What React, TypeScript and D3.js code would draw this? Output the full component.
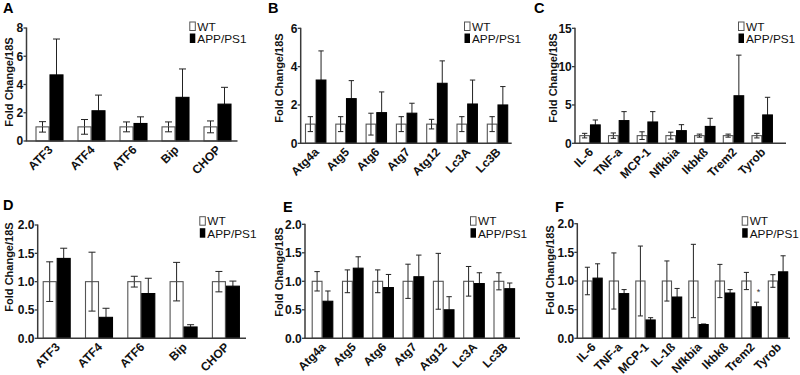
import React from "react";
import * as d3 from "d3";

// ---------- data ----------
const catsER = ["ATF3", "ATF4", "ATF6", "Bip", "CHOP"];
const catsAtg = ["Atg4a", "Atg5", "Atg6", "Atg7", "Atg12", "Lc3A", "Lc3B"];
const catsInfC = ["IL-6", "TNF-a", "MCP-1", "Nfkbia", "Ikbkß", "Trem2", "Tyrob"];
const catsInfF = ["IL-6", "TNF-a", "MCP-1", "IL-1ß", "Nfkbia", "Ikbkß", "Trem2", "Tyrob"];

const wtA = [1, 1, 1, 1, 1];
const wtErrA = [0.37, 0.52, 0.35, 0.35, 0.42];
const appA = [4.68, 2.14, 1.24, 3.09, 2.61];
const appErrA = [2.54, 1.11, 0.47, 2.01, 1.19];
const ticksA = [0, 2, 4, 6, 8];

const wtB = [1, 1, 1, 1, 1, 1, 1];
const wtErrB = [0.39, 0.39, 0.57, 0.39, 0.25, 0.39, 0.39];
const appB = [3.3, 2.33, 1.6, 1.57, 3.13, 2.05, 2.0];
const appErrB = [1.52, 0.94, 1.08, 0.52, 1.17, 1.25, 0.96];
const ticksB = [0, 2, 4, 6];

const wtC = [1, 1, 1, 1, 1, 1, 1];
const wtErrC = [0.3, 0.35, 0.5, 0.45, 0.2, 0.2, 0.3];
const appC = [2.4, 2.96, 2.78, 1.65, 2.2, 6.2, 3.7];
const appErrC = [0.64, 1.17, 1.35, 0.78, 1.06, 5.3, 2.3];
const ticksC = [0, 5, 10, 15];

const wtD = [1, 1, 1, 1, 1];
const wtErrD = [0.35, 0.52, 0.095, 0.34, 0.18];
const appD = [1.41, 0.37, 0.79, 0.2, 0.92];
const appErrD = [0.18, 0.16, 0.27, 0.04, 0.09];
const ticksLow = [0, 0.5, 1.0, 1.5, 2.0];

const wtE = [1, 1, 1, 1, 1, 1, 1];
const wtErrE = [0.17, 0.2, 0.2, 0.3, 0.49, 0.26, 0.15];
const appE = [0.65, 1.23, 0.89, 1.08, 0.5, 0.96, 0.87];
const appErrE = [0.18, 0.2, 0.23, 0.38, 0.23, 0.19, 0.1];

const wtF = [1, 1, 1, 1, 1, 1, 1, 1];
const wtErrF = [0.24, 0.49, 0.61, 0.35, 0.64, 0.29, 0.15, 0.11];
const appF = [1.05, 0.78, 0.32, 0.72, 0.24, 0.79, 0.55, 1.16];
const appErrF = [0.25, 0.07, 0.04, 0.15, 0.01, 0.06, 0.08, 0.28];

const seriesNames = ["WT", "APP/PS1"];
const yTitle = "Fold Change/18S";

// ---------- layout ----------
const FONT = "'Liberation Sans', Arial, Helvetica, sans-serif";

type PanelDef = {
  letter: string;
  letterPos: [number, number];
  cats: string[];
  wt: number[];
  wtErr: number[];
  app: number[];
  appErr: number[];
  ticks: number[];
  decimals: number;
  axisX: number;
  axisEnd: number;
  yTop: number;
  yBot: number;
  firstBar: number;
  step: number;
  bw: number;
  legend: [number, number];
  title: [number, number];
  star?: string;
};

const panels: PanelDef[] = [
  {
    letter: "A", letterPos: [3, 13], cats: catsER, wt: wtA, wtErr: wtErrA, app: appA, appErr: appErrA,
    ticks: ticksA, decimals: 0, axisX: 26.5, axisEnd: 237.5, yTop: 28, yBot: 141,
    firstBar: 35.5, step: 42, bw: 14, legend: [189.3, 22], title: [13.3, 82],
  },
  {
    letter: "B", letterPos: [268, 13], cats: catsAtg, wt: wtB, wtErr: wtErrB, app: appB, appErr: appErrB,
    ticks: ticksB, decimals: 0, axisX: 300.7, axisEnd: 511.7, yTop: 28.3, yBot: 143.3,
    firstBar: 305, step: 30.3, bw: 10.7, legend: [464, 22], title: [283, 78],
  },
  {
    letter: "C", letterPos: [534, 13], cats: catsInfC, wt: wtC, wtErr: wtErrC, app: appC, appErr: appErrC,
    ticks: ticksC, decimals: 0, axisX: 575, axisEnd: 786, yTop: 28.3, yBot: 143.3,
    firstBar: 579.3, step: 28.7, bw: 10.7, legend: [738, 22], title: [556.7, 78],
  },
  {
    letter: "D", letterPos: [3, 210], cats: catsER, wt: wtD, wtErr: wtErrD, app: appD, appErr: appErrD,
    ticks: ticksLow, decimals: 1, axisX: 37.7, axisEnd: 246, yTop: 225, yBot: 338.3,
    firstBar: 42.7, step: 42.3, bw: 14, legend: [199.3, 216.7], title: [13.3, 267],
  },
  {
    letter: "E", letterPos: [283, 212], cats: catsAtg, wt: wtE, wtErr: wtErrE, app: appE, appErr: appErrE,
    ticks: ticksLow, decimals: 1, axisX: 305, axisEnd: 520, yTop: 224.3, yBot: 338.3,
    firstBar: 311.7, step: 30.3, bw: 10.8, legend: [470, 216.7], title: [283, 272],
  },
  {
    letter: "F", letterPos: [555, 212], cats: catsInfF, wt: wtF, wtErr: wtErrF, app: appF, appErr: appErrF,
    ticks: ticksLow, decimals: 1, axisX: 577.3, axisEnd: 790, yTop: 223.7, yBot: 338.3,
    firstBar: 582.3, step: 26.5, bw: 10.2, legend: [741.7, 216.7], title: [554, 270], star: "Trem2",
  },
];

const AXIS = "#3a3a3a";
const OUTLINE = "#555";

function Panel({ p }: { p: PanelDef }) {
  const n = p.cats.length;
  const groupW = p.bw * 2;
  const pad = (p.step - groupW) / p.step;
  const x = d3
    .scaleBand<string>()
    .domain(p.cats)
    .range([p.firstBar - (p.step - groupW) / 2, p.firstBar - (p.step - groupW) / 2 + n * p.step])
    .paddingInner(pad)
    .paddingOuter(pad / 2);
  const sub = d3.scaleBand<string>().domain(seriesNames).range([0, x.bandwidth()]);
  const yMax = p.ticks[p.ticks.length - 1];
  const y = d3.scaleLinear().domain([0, yMax]).range([p.yBot, p.yTop]);
  const fmt = d3.format(p.decimals ? ".1f" : "d");
  const cap = p.bw * 0.5;

  const bars: React.ReactNode[] = [];
  p.cats.forEach((c, i) => {
    const series = [
      { name: "WT", v: p.wt[i], e: p.wtErr[i], fill: "#fff" },
      { name: "APP/PS1", v: p.app[i], e: p.appErr[i], fill: "#000" },
    ];
    series.forEach((s) => {
      const bx = (x(c) ?? 0) + (sub(s.name) ?? 0);
      const cx = bx + sub.bandwidth() / 2;
      const top = y(s.v);
      const hi = y(s.v + s.e);
      const lo = y(Math.max(0, s.v - s.e));
      const white = s.fill === "#fff";
      bars.push(
        <g key={c + s.name}>
          <line x1={cx} x2={cx} y1={hi} y2={top} stroke="#222" strokeWidth={1} />
          <line x1={cx - cap / 2} x2={cx + cap / 2} y1={hi} y2={hi} stroke="#222" strokeWidth={1} />
          <rect
            x={bx + 0.5}
            y={top}
            width={sub.bandwidth() - 1}
            height={p.yBot - top}
            fill={s.fill}
            stroke={white ? OUTLINE : "#000"}
            strokeWidth={1.1}
          />
          {white && (
            <>
              <line x1={cx} x2={cx} y1={top} y2={lo} stroke="#222" strokeWidth={1} />
              <line x1={cx - cap / 2} x2={cx + cap / 2} y1={lo} y2={lo} stroke="#222" strokeWidth={1} />
            </>
          )}
        </g>
      );
      if (p.star && c === p.star && s.name === "APP/PS1") {
        bars.push(
          <text key="star" x={cx + 2} y={hi - 7} fontSize={9} fontFamily={FONT} textAnchor="middle" fill="#333">
            *
          </text>
        );
      }
    });
  });

  const [lx, ly] = p.legend;
  return (
    <g>
      <text x={p.letterPos[0]} y={p.letterPos[1]} fontFamily={FONT} fontWeight="bold" fontSize={14.5}>
        {p.letter}
      </text>
      <text
        transform={`translate(${p.title[0]},${p.title[1]}) rotate(-90)`}
        textAnchor="middle"
        fontFamily={FONT}
        fontWeight="bold"
        fontSize={11}
        fill="#111"
      >
        {yTitle}
      </text>
      {bars}
      {/* axes */}
      <line x1={p.axisX} x2={p.axisX} y1={p.yTop - 0.5} y2={p.yBot} stroke={AXIS} strokeWidth={1.5} />
      <line x1={p.axisX - 0.75} x2={p.axisEnd} y1={p.yBot} y2={p.yBot} stroke={AXIS} strokeWidth={1.5} />
      {p.ticks.map((t) => (
        <g key={t}>
          <line x1={p.axisX - 3} x2={p.axisX} y1={y(t)} y2={y(t)} stroke={AXIS} strokeWidth={1.3} />
          <text
            x={p.axisX - 3.2}
            y={y(t)}
            dy="0.36em"
            textAnchor="end"
            fontFamily={FONT}
            fontWeight="bold"
            fontSize={12}
            fill="#111"
          >
            {fmt(t)}
          </text>
        </g>
      ))}
      {p.cats.map((c) => {
        const cx = (x(c) ?? 0) + x.bandwidth() / 2;
        return (
          <text
            key={c}
            transform={`translate(${cx + 4},${p.yBot + 9.5}) rotate(-45)`}
            textAnchor="end"
            fontFamily={FONT}
            fontWeight="bold"
            fontSize={12}
            fill="#111"
          >
            {c}
          </text>
        );
      })}
      {/* legend */}
      <rect x={lx + 0.5} y={ly} width={5.5} height={8.5} fill="#fff" stroke={OUTLINE} strokeWidth={1} />
      <rect x={lx + 0.5} y={ly + 11.5} width={5.5} height={9.5} fill="#000" />
      <text x={lx + 8} y={ly + 8.7} fontFamily={FONT} fontSize={11.8} fill="#111">
        {seriesNames[0]}
      </text>
      <text x={lx + 8} y={ly + 21} fontFamily={FONT} fontSize={11.8} fill="#111">
        {seriesNames[1]}
      </text>
    </g>
  );
}

export default function App() {
  return (
    <svg
      width={800}
      height={375}
      style={{ position: "absolute", left: 0, top: 0, background: "#fff" }}
    >
      <rect width={800} height={375} fill="#fff" />
      {panels.map((p) => (
        <Panel key={p.letter} p={p} />
      ))}
    </svg>
  );
}
